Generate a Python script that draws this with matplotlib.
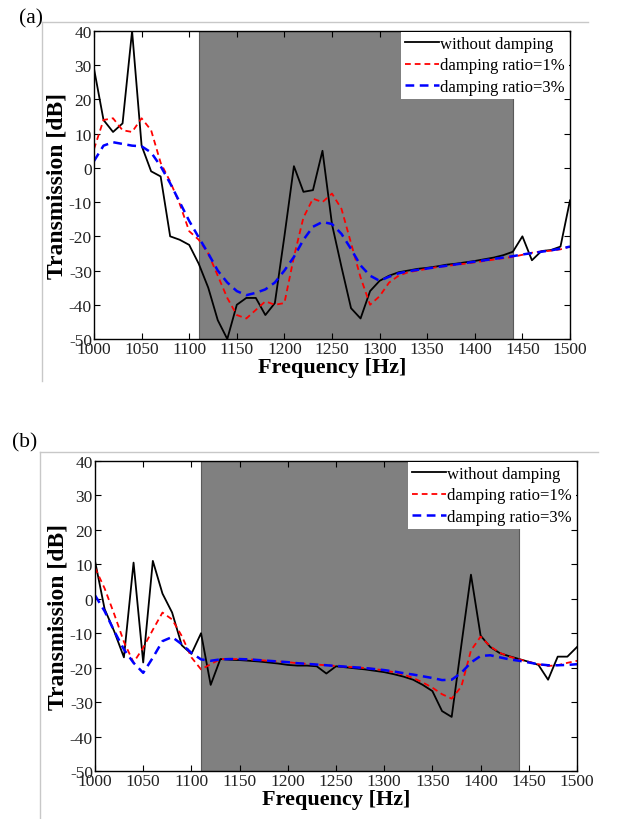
import numpy as np
import matplotlib
matplotlib.use('Agg')
import matplotlib.pyplot as plt
from matplotlib.lines import Line2D

plt.rcParams['font.family'] = ['Liberation Serif', 'DejaVu Serif']
plt.rcParams['axes.unicode_minus'] = False

freq = np.arange(1000, 1501, 10)

# panel (a)
a_none = [29, 14, 10.5, 13, 40, 6.5, -1, -2.5, -20, -21, -22.5,
          -28, -35, -44.5, -50, -40, -38, -38, -43, -39.5, -20,
          0.5, -7, -6.5, 5, -16.5, -29, -41, -44, -36, -33,
          -31.5, -30.5, -30, -29.5, -29.2, -28.8, -28.3, -28, -27.6, -27.2,
          -26.7, -26.2, -25.5, -24.5, -20, -27, -24.3, -24, -23, -9.5]
a_d1 = [5.5, 14, 14.5, 11, 10.5, 14.5, 11, 1.5, -4, -10.5, -18.5,
        -21, -25, -31.5, -38, -43, -44, -41.5, -39, -40, -39.5,
        -26, -14.5, -9, -10, -7.5, -12, -22, -32, -40, -37.5,
        -33.5, -31.5, -30.5, -30, -29.5, -29, -28.7, -28.3, -28, -27.6,
        -27.2, -26.8, -26.4, -26, -25.4, -24.8, -24.4, -24.2, -23.8, -23]
a_d3 = [2, 6.5, 7.5, 7, 6.5, 6.3, 4.5, 0.5, -4.5, -10, -15.5,
        -20.3, -25, -30, -33.5, -36, -37.2, -36.5, -35.5, -33.5, -30,
        -26, -21, -17.2, -15.8, -16.4, -19.3, -23.7, -28.5, -31.5, -33,
        -31.8, -30.8, -30.2, -29.8, -29.4, -29, -28.6, -28.2, -27.8, -27.4,
        -27, -26.6, -26.2, -25.8, -25.3, -24.9, -24.5, -24.1, -23.6, -23]

# panel (b)
b_none = [11, -3, -9.5, -17, 10.5, -18.5, 11, 1.5, -4, -13.5, -16,
          -10, -25, -17.5, -17.7, -17.8, -18, -18.2, -18.5, -18.8, -19.2,
          -19.4, -19.4, -19.6, -21.7, -19.6, -19.9, -20.2, -20.5, -20.9, -21.3,
          -21.9, -22.6, -23.5, -25, -26.8, -32.6, -34.3, -13.5, 7, -10.7,
          -14, -15.8, -16.7, -17.5, -18.3, -19.2, -23.5, -16.8, -16.8, -14]
b_d1 = [9, 3, -4.5, -12.5, -18.5, -14.2, -9, -4, -6, -10.8, -17,
        -20.5, -19, -17.5, -17.5, -17.5, -17.6, -17.8, -18, -18.2, -18.4,
        -18.7, -18.9, -19.1, -19.3, -19.5, -19.7, -19.9, -20.1, -20.4, -20.8,
        -21.3, -22, -23, -24.3, -25.8, -27.7, -29, -25.5, -15, -11,
        -13.8, -15.7, -16.8, -17.6, -18.3, -19, -19.5, -19.3, -18.6, -18]
b_d3 = [1, -3.6, -9.4, -14.7, -18.6, -21.5, -17.1, -12.3, -11.1, -13.2, -15.7,
        -17.6, -18, -17.6, -17.5, -17.5, -17.6, -17.8, -18, -18.2, -18.4,
        -18.7, -18.9, -19.1, -19.3, -19.5, -19.7, -19.9, -20.1, -20.4, -20.7,
        -21.1, -21.6, -22, -22.5, -23, -23.6, -23.5, -21.5, -18.5, -16.6,
        -16.4, -17, -17.6, -18, -18.5, -19, -19.3, -19.3, -19.2, -19]

band = (1110, 1440)
labels = ['without damping', 'damping ratio=1%', 'damping ratio=3%']

W, H = 619, 820
fig = plt.figure(figsize=(W / 100, H / 100), dpi=100)


def px_axes(l, r, t, b):
    return fig.add_axes([l / W, 1 - b / H, (r - l) / W, (b - t) / H])


def panel(ax, y0, y1, y2):
    ax.axvspan(band[0], band[1], facecolor='#808080', edgecolor='#5a5a5a',
               lw=0.8, zorder=0)
    ax.plot(freq, y0, color='black', lw=1.3, label=labels[0])
    ax.plot(freq, y1, color='red', lw=1.3, dashes=(3.2, 2.2), label=labels[1])
    ax.plot(freq, y2, color='blue', lw=1.8, dashes=(3.5, 2.2), label=labels[2])
    ax.set_xlim(1000, 1500)
    ax.set_ylim(-50, 40)
    ax.set_xticks(np.arange(1000, 1501, 50))
    ax.set_yticks(np.arange(-50, 41, 10))
    ax.tick_params(direction='in', top=True, right=True, length=4,
                   width=0.8, labelsize=12.5, pad=1.5, labelcolor='#222222')
    for s in ax.spines.values():
        s.set_linewidth(1.0)
    ax.set_xlabel('Frequency [Hz]', fontsize=16, fontweight='bold', labelpad=0)
    ax.set_ylabel('Transmission [dB]', fontsize=17, fontweight='bold', labelpad=1)
    leg = ax.legend(loc='upper right', fontsize=12, frameon=True,
                    fancybox=False, borderaxespad=0.05, handlelength=2.0,
                    handletextpad=0.1, labelspacing=0.32, borderpad=0.25)
    leg.get_frame().set_facecolor('white')
    leg.get_frame().set_edgecolor('none')
    leg.get_frame().set_alpha(1)


ax1 = px_axes(94, 570, 32, 340)
panel(ax1, a_none, a_d1, a_d3)
ax2 = px_axes(95, 577, 462, 772)
panel(ax2, b_none, b_d1, b_d3)

# light frame lines of the pasted panels
g = '#c8c8c8'
fig.add_artist(Line2D([42 / W, 588 / W], [1 - 23 / H, 1 - 23 / H], color=g, lw=1))
fig.add_artist(Line2D([42 / W, 42 / W], [1 - 23 / H, 1 - 382 / H], color=g, lw=1))
fig.add_artist(Line2D([40 / W, 598 / W], [1 - 453 / H, 1 - 453 / H], color=g, lw=1))
fig.add_artist(Line2D([40 / W, 40 / W], [1 - 453 / H, 0], color=g, lw=1))

fig.text(19 / W, 1 - 19 / H, '(a)', fontsize=15.5, va='center', ha='left')
fig.text(12 / W, 1 - 443 / H, '(b)', fontsize=15.5, va='center', ha='left')

fig.savefig('out.png', dpi=100)
